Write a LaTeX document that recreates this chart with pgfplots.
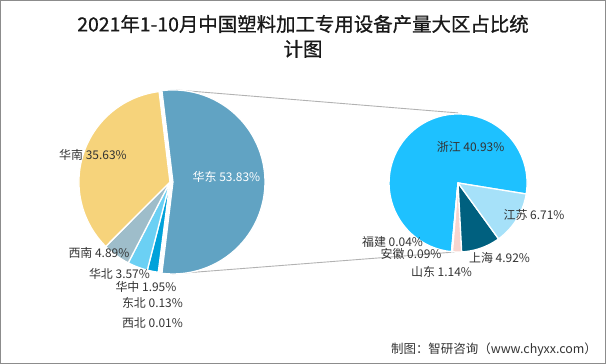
\documentclass[border=0pt]{standalone}
\usepackage{fontspec}
\setmainfont{Noto Sans CJK SC}
\newfontfamily\titlefont[FakeBold=0.8]{Noto Sans CJK SC}
\usepackage{pgfplots}
\pgfplotsset{compat=1.18}
\definecolor{cHD}{HTML}{61A3C3}
\definecolor{cHN}{HTML}{F6D37B}
\definecolor{cXN}{HTML}{9EBDCA}
\definecolor{cHB}{HTML}{6BD0F4}
\definecolor{cHZ}{HTML}{00A2DA}
\definecolor{cDB}{HTML}{2E75B6}
\definecolor{cXB}{HTML}{8C8C8C}
\definecolor{cZJ}{HTML}{1EC1FF}
\definecolor{cJS}{HTML}{A6E1F9}
\definecolor{cSH}{HTML}{00607F}
\definecolor{cSD}{HTML}{F7D5CF}
\definecolor{cAH}{HTML}{E0E0E0}
\definecolor{cFJ}{HTML}{C8C8C8}
\definecolor{txt}{HTML}{333333}
% slice: cx, cy, r, value, degrees per unit (signed), colour
\newcommand\pieslice[6]{%
  \pgfmathsetmacro\pA{\curang}%
  \pgfmathsetmacro\pB{\curang+(#4)*(#5)}%
  \xdef\curang{\pB}%
  \pgfmathsetmacro\pLo{min(\pA,\pB)}%
  \pgfmathsetmacro\pHi{max(\pA,\pB)}%
  \edef\doslice{\noexpand\addplot[fill=#6, draw=white, line width=1.3pt, line join=round, domain=\pLo:\pHi, samples=60, variable=\noexpand\t, forget plot] ({#1+#3*cos(\noexpand\t)},{#2+#3*sin(\noexpand\t)}) -- (#1,#2) -- cycle;}%
  \doslice}
\begin{document}
\begin{tikzpicture}
\begin{axis}[width=606bp,height=364bp,scale only axis,
  xmin=0,xmax=606,ymin=0,ymax=364,hide axis,clip=false]
% frame
\draw[black!45, line width=0.8pt] (0.5,0.5) rectangle (605.5,363.5);
% connector lines
\addplot[black!30, line width=0.9pt, forget plot] coordinates {(176,274) (458,251)};
\addplot[black!30, line width=0.9pt, forget plot] coordinates {(172,90) (455,112)};
% left pie: 华东 (exploded)
\gdef\curang{-96.894}
\pieslice{173}{182}{92}{53.83}{3.6}{cHD}
% rest, clockwise from the lower edge of 华东
\gdef\curang{263.106}
\pieslice{170}{182}{91}{0.01}{-3.6}{cXB}
\pieslice{170}{182}{91}{0.13}{-3.6}{cDB}
\pieslice{170}{182}{91}{1.95}{-3.6}{cHZ}
\pieslice{170}{182}{91}{3.57}{-3.6}{cHB}
\pieslice{170}{182}{91}{4.89}{-3.6}{cXN}
\pieslice{170}{182}{91}{35.63}{-3.6}{cHN}
% right pie (breakdown of 华东, 53.83 in all)
\gdef\curang{-9.2}
\pieslice{458}{181}{69}{40.93}{6.68772}{cZJ}
\pieslice{458}{181}{69}{0.04}{6.68772}{cFJ}
\pieslice{458}{181}{69}{0.09}{6.68772}{cAH}
\pieslice{458}{181}{69}{1.14}{6.68772}{cSD}
\pieslice{458}{181}{69}{4.92}{6.68772}{cSH}
\pieslice{458}{181}{69}{6.71}{6.68772}{cJS}
% title
\node[align=center, text=black!90, font=\titlefont\fontsize{19.5}{25}\selectfont] at (303,327.5) {2021年1-10月中国塑料加工专用设备产量大区占比统\\计图};
% labels
\begin{scope}[every node/.style={text=txt, font=\fontsize{12}{13}\selectfont, inner sep=0pt}]
\node at (93,209) {华南 35.63\%};
\node[text=white] at (226.5,187) {华东 53.83\%};
\node at (99,111) {西南 4.89\%};
\node at (119.5,90) {华北 3.57\%};
\node at (146,77) {华中 1.95\%};
\node at (152.5,61) {东北 0.13\%};
\node at (152.5,41) {西北 0.01\%};
\node at (470.5,217) {浙江 40.93\%};
\node at (534,149) {江苏 6.71\%};
\node at (499.5,106) {上海 4.92\%};
\node at (441.5,92) {山东 1.14\%};
\node at (411,110) {安徽 0.09\%};
\node at (392.5,122) {福建 0.04\%};
\node[anchor=east, text=black!80, font=\fontsize{12.5}{14}\selectfont] at (597,14) {制图：智研咨询（www.chyxx.com）};
\end{scope}
\end{axis}
\end{tikzpicture}
\end{document}
